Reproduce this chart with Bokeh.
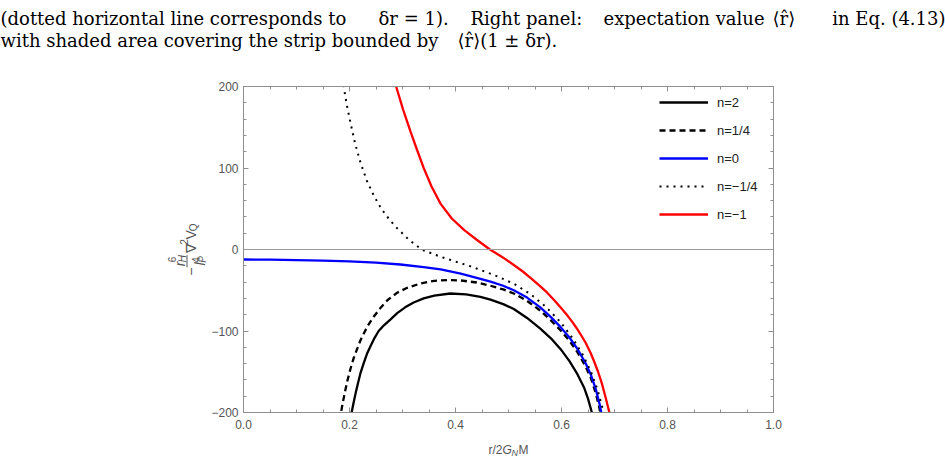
import numpy as np
from bokeh.plotting import figure
from bokeh.models import Range1d, Span, Legend, LegendItem, LinearAxis, FixedTicker
from bokeh.layouts import column, row
from bokeh.core.properties import value
from bokeh.embed import file_html
from bokeh.resources import INLINE

# ---------------- data ----------------
x_n2 = [0.198, 0.204, 0.208, 0.212, 0.216, 0.221, 0.227, 0.233, 0.240, 0.246, 0.255, 0.265, 0.277, 0.290,
        0.305, 0.321, 0.340, 0.360, 0.390, 0.420, 0.447, 0.466, 0.490, 0.510, 0.535, 0.560, 0.580, 0.598,
        0.615, 0.630, 0.643, 0.650, 0.656, 0.660]
y_n2 = [-215, -200, -187, -175, -164, -151, -139, -128, -118, -110, -100, -93, -86, -78,
        -71, -65, -60, -56.5, -54, -55, -58, -61.5, -67, -73, -84, -97, -109, -122,
        -137, -153, -170, -183, -197, -207]

x_n14 = [0.181, 0.184, 0.187, 0.191, 0.196, 0.202, 0.208, 0.215, 0.221, 0.227, 0.235, 0.245, 0.258, 0.272,
         0.290, 0.309, 0.335, 0.360, 0.385, 0.410, 0.440, 0.466, 0.490, 0.510, 0.535, 0.560, 0.580, 0.598,
         0.615, 0.630, 0.645, 0.655, 0.665, 0.672, 0.675]
y_n14 = [-210, -200, -189, -176, -161, -146, -133, -121, -111, -103, -93, -83, -72, -62,
         -53, -47, -41.5, -38.5, -37.5, -38, -40.5, -44.5, -49, -54, -63, -75, -87, -99,
         -112, -126, -143, -157, -177, -196, -206]

x_n0 = [0.0, 0.050, 0.100, 0.150, 0.200, 0.250, 0.296, 0.340, 0.372, 0.410, 0.447, 0.466, 0.490, 0.510,
        0.535, 0.560, 0.580, 0.598, 0.615, 0.630, 0.645, 0.655, 0.665, 0.672, 0.676]
y_n0 = [-12.3, -12.5, -13, -13.6, -14.6, -16.2, -18.4, -21.5, -24.5, -29.5, -36, -39.5, -44.5, -50,
        -59, -71, -83, -95, -108, -122, -139, -153, -172, -190, -203]

x_nm14 = [0.186, 0.189, 0.195, 0.202, 0.211, 0.221, 0.233, 0.246, 0.260, 0.275, 0.290, 0.312, 0.336, 0.370,
          0.403, 0.430, 0.453, 0.479, 0.510, 0.542, 0.570, 0.598, 0.620, 0.640, 0.655, 0.668, 0.678, 0.681]
y_nm14 = [210, 200, 177, 155, 129, 106, 84, 66, 50, 37, 26, 12, 0, -8.5,
          -15.5, -21, -26.5, -33, -42, -55, -70, -89, -108, -129, -149, -172, -196, -206]

x_nm1 = [0.286, 0.288, 0.301, 0.315, 0.327, 0.340, 0.355, 0.372, 0.393, 0.416, 0.440, 0.465, 0.490, 0.510,
         0.527, 0.542, 0.558, 0.573, 0.586, 0.598, 0.610, 0.620, 0.628, 0.636, 0.646, 0.655, 0.662, 0.669,
         0.676, 0.683, 0.690, 0.694]
y_nm1 = [205, 200, 172, 145, 123, 100, 77, 56, 38, 24, 12, 0, -10, -19,
         -27, -35, -44, -53, -62, -71, -80, -88.5, -96, -104, -115, -127, -138, -150,
         -164, -181, -199, -210]

series_x = [x_n2, x_n14, x_n0, x_nm14, x_nm1]
series_y = [y_n2, y_n14, y_n0, y_nm14, y_nm1]
series_names = ["n=2", "n=1/4", "n=0", "n=\u22121/4", "n=\u22121"]

x_ticks = [0.0, 0.2, 0.4, 0.6, 0.8, 1.0]
x_tick_labels = ["0.0", "0.2", "0.4", "0.6", "0.8", "1.0"]
y_ticks = [-200, -100, 0, 100, 200]
y_tick_labels = ["\u2212200", "\u2212100", "0", "100", "200"]

caption_line1 = ["(dotted horizontal line corresponds to", "\u03b4r = 1).", "Right panel:",
                 "expectation value", "\u27e8r\u0302\u27e9", "in Eq. (4.13)"]
caption_line2 = ["with shaded area covering the strip bounded by", "\u27e8r\u0302\u27e9(1 \u00b1 \u03b4r)."]

# ---------------- styles ----------------
series_colors = ["black", "black", "#0000ff", "black", "#ff0000"]
series_dash = ["solid", "6 4", "solid", "2 5", "solid"]
series_width = [2.3, 2.3, 2.3, 2.0, 2.3]
FRAME = "#8f8f8f"
TXT = "#555555"
SANS = "Liberation Sans"
SERIF = "DejaVu Serif"

# ---------------- caption figure ----------------
cap = figure(width=945, height=60, x_range=Range1d(0, 945), y_range=Range1d(60, 0),
             output_backend="svg", toolbar_location=None, min_border=0,
             x_axis_location=None, y_axis_location=None)
cap.grid.visible = False
cap.outline_line_color = None
cap1_x = [0, 378, 470, 603, 772, 945]
cap1_align = ["left", "left", "left", "left", "left", "right"]
cap.text(x=cap1_x, y=[18] * 6, text=caption_line1, text_align=cap1_align,
         text_baseline="alphabetic", text_font=value(SERIF), text_font_size="18px", text_color="black")
cap.text(x=[0, 457], y=[40, 40], text=caption_line2, text_align="left",
         text_baseline="alphabetic", text_font=value(SERIF), text_font_size="18px", text_color="black")

# ---------------- main plot ----------------
p = figure(width=737, height=377, x_range=Range1d(0, 1), y_range=Range1d(-200, 200),
           output_backend="svg", toolbar_location=None,
           min_border_left=35, min_border_right=172, min_border_top=26, min_border_bottom=25)
p.xgrid.visible = False
p.ygrid.visible = False
p.outline_line_color = FRAME
p.background_fill_color = "white"

p.add_layout(LinearAxis(), "above")
p.add_layout(LinearAxis(), "right")

x_minor = [float(v) for v in np.round(np.arange(0, 1.0001, 0.05), 3)]
y_minor = [int(v) for v in np.arange(-200, 201, 20)]

for ax in p.xaxis:
    ax.ticker = FixedTicker(ticks=x_ticks, minor_ticks=x_minor)
    ax.major_label_overrides = {t: l for t, l in zip(x_ticks, x_tick_labels)}
for ax in p.yaxis:
    ax.ticker = FixedTicker(ticks=y_ticks, minor_ticks=y_minor)
    ax.major_label_overrides = {t: l for t, l in zip(y_ticks, y_tick_labels)}
for ax in p.xaxis + p.yaxis:
    ax.axis_line_color = FRAME
    ax.major_tick_line_color = FRAME
    ax.minor_tick_line_color = FRAME
    ax.major_tick_in = 5
    ax.major_tick_out = 0
    ax.minor_tick_in = 3
    ax.minor_tick_out = 0
    ax.major_label_text_font = SANS
    ax.major_label_text_font_size = "12px"
    ax.major_label_text_color = TXT
p.below[0].major_label_standoff = 7
p.left[0].major_label_standoff = 5
for ax in [p.above[0], p.right[0]]:
    ax.major_label_text_color = None
    ax.major_label_standoff = 0

p.add_layout(Span(location=0, dimension="width", line_color="#9a9a9a", line_width=1.2))

items = []
for xs, ys, c, d, w, name in zip(series_x, series_y, series_colors, series_dash, series_width, series_names):
    r = p.line(xs, ys, line_color=c, line_dash=d, line_width=w)
    items.append(LegendItem(label=name, renderers=[r]))

legend = Legend(items=items, location="top_right", margin=1, padding=5,
                glyph_width=49, glyph_height=20, label_height=20, label_width=50,
                label_standoff=9, spacing=8,
                label_text_font=SANS, label_text_font_size="13px", label_text_color="#222222",
                border_line_alpha=0, background_fill_alpha=0)
p.add_layout(legend)

# ---------------- y-axis label (rotated) ----------------
ylab = figure(width=208, height=377, x_range=Range1d(0, 208), y_range=Range1d(437, 60),
              output_backend="svg", toolbar_location=None, min_border=0,
              x_axis_location=None, y_axis_location=None)
ylab.grid.visible = False
ylab.outline_line_color = None
ang = np.pi / 2
def ytxt(x, y, t, size, style="normal"):
    ylab.text(x=[x], y=[y], text=[t], angle=ang, text_align="left", text_baseline="alphabetic",
              text_font=value(SANS), text_font_size=size, text_font_style=style, text_color=TXT)
ytxt(190, 279, "\u2212", "14px")
ytxt(179, 268, "r", "14px", "italic")
ytxt(182, 263.3, "H", "10px", "italic")
ytxt(171, 263.3, "6", "10px")
ylab.line(x=[186.5, 186.5], y=[269, 255], line_color=TXT, line_width=1)
ytxt(199, 266.9, "l", "14px", "italic")
ytxt(202, 263.8, "P", "10px", "italic")
ytxt(195, 263.8, "4", "10px")
ytxt(190, 253, "\u2207", "14px")
ytxt(183, 243, "2", "10px")
ytxt(190, 237, "V", "14px")
ytxt(193, 227.5, "Q", "10px")

# ---------------- x-axis label ----------------
xlab = figure(width=945, height=22, x_range=Range1d(0, 945), y_range=Range1d(459, 437),
              output_backend="svg", toolbar_location=None, min_border=0,
              x_axis_location=None, y_axis_location=None)
xlab.grid.visible = False
xlab.outline_line_color = None
def xtxt(x, y, t, size, style="normal"):
    xlab.text(x=[x], y=[y], text=[t], text_align="left", text_baseline="alphabetic",
              text_font=value(SANS), text_font_size=size, text_font_style=style, text_color=TXT)
xtxt(488, 449, "r/2", "12px")
xtxt(502, 449, "G", "12px", "italic")
xtxt(511, 452, "N", "9px", "italic")
xtxt(518, 449, "M", "12px")

layout = column(cap, row(ylab, p, spacing=0), xlab, spacing=0)
open("out.html", "w").write(file_html(layout, INLINE))
